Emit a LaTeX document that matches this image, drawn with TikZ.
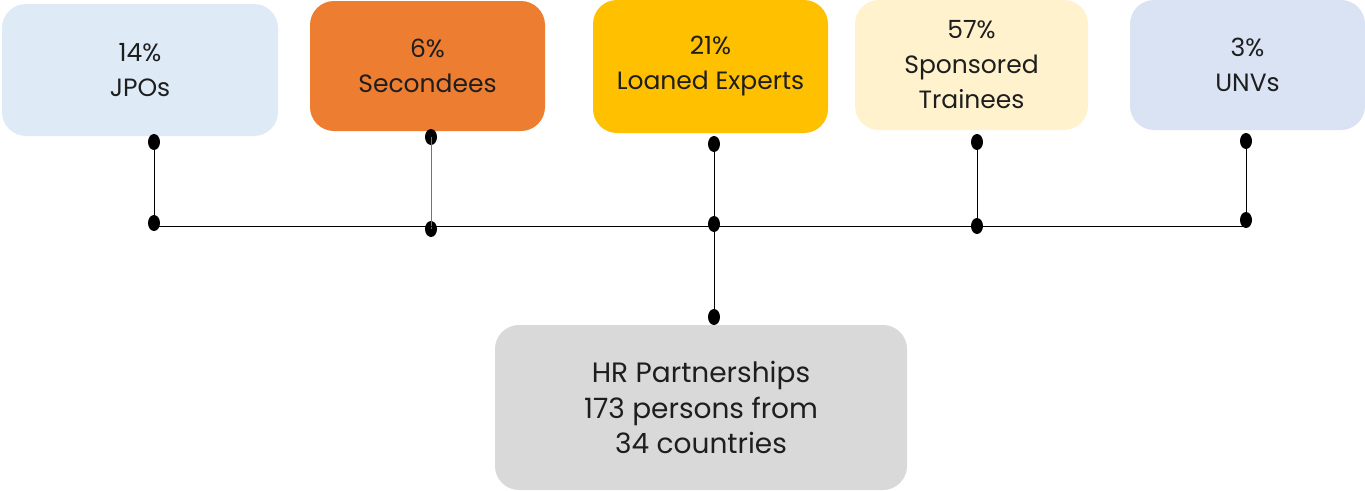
\documentclass[tikz,border=0pt]{standalone}
\usepackage{fontspec}
\setmainfont{Poppins}
\usetikzlibrary{shapes.geometric}

\definecolor{jpoblue}{HTML}{DEEBF7}
\definecolor{secorange}{HTML}{ED7D31}
\definecolor{loangold}{HTML}{FFC000}
\definecolor{sponcream}{HTML}{FFF2CC}
\definecolor{unvblue}{HTML}{DAE3F3}
\definecolor{hrgrey}{HTML}{D9D9D9}
\definecolor{inkgrey}{HTML}{1E1E1E}

\begin{document}
\begin{tikzpicture}[x=1pt, y=-1pt,
  box/.style={rectangle, rounded corners=24pt, inner sep=0pt, align=center,
    text=inkgrey, font=\fontsize{25}{35}\selectfont},
  dot/.style={ellipse, fill=black, inner sep=0pt, minimum width=12pt, minimum height=16pt},
  link/.style={line width=1pt, black}]
\useasboundingbox (0,0) rectangle (1365,490);
% Kategorien oben
\node[box, fill=jpoblue, minimum width=276pt, minimum height=132pt] (jpo) at (140,70) {14\%\\JPOs};
\node[box, fill=secorange, minimum width=235pt, minimum height=130pt] (sec) at (427.5,66) {6\%\\Secondees};
\node[box, fill=loangold, minimum width=235pt, minimum height=133pt] (loan) at (710.5,66.5) {21\%\\Loaned Experts};
\node[box, fill=sponcream, minimum width=233pt, minimum height=130pt] (spon) at (971.5,65) {57\%\\Sponsored\\Trainees};
\node[box, fill=unvblue, minimum width=235pt, minimum height=130pt] (unv) at (1247.5,65) {3\%\\UNVs};
% Gesamtbox unten
\node[box, fill=hrgrey, minimum width=412pt, minimum height=165pt,
  font=\fontsize{28}{35.5}\selectfont] (hr) at (701,407.5) {HR Partnerships\\173 persons from\\34 countries};
% Punkte
\node[dot] (jpotop) at (154,142) {};
\node[dot] (sectop) at (431,137) {};
\node[dot] (loantop) at (714,144) {};
\node[dot] (spontop) at (977,142) {};
\node[dot] (unvtop) at (1246,141) {};
\node[dot] (jpobot) at (154,223) {};
\node[dot] (secbot) at (431,229) {};
\node[dot] (loanbot) at (714,224) {};
\node[dot] (sponbot) at (977,226) {};
\node[dot] (unvbot) at (1246,220) {};
\node[dot] (hrtop) at (714,317) {};
% Linien
\draw[link] (jpotop.center) -- (jpobot.center);
\draw[link, black!55] (sectop.center) -- (secbot.center);
\draw[link] (loantop.center) -- (loanbot.center);
\draw[link] (spontop.center) -- (sponbot.center);
\draw[link] (unvtop.center) -- (unvbot.center);
\draw[link] (jpobot.center) -- (jpobot.center |- 0,226) -- (unvbot.center |- 0,226) -- (unvbot.center);
\draw[link] (loanbot.center) -- (hrtop.center);
\end{tikzpicture}
\end{document}
